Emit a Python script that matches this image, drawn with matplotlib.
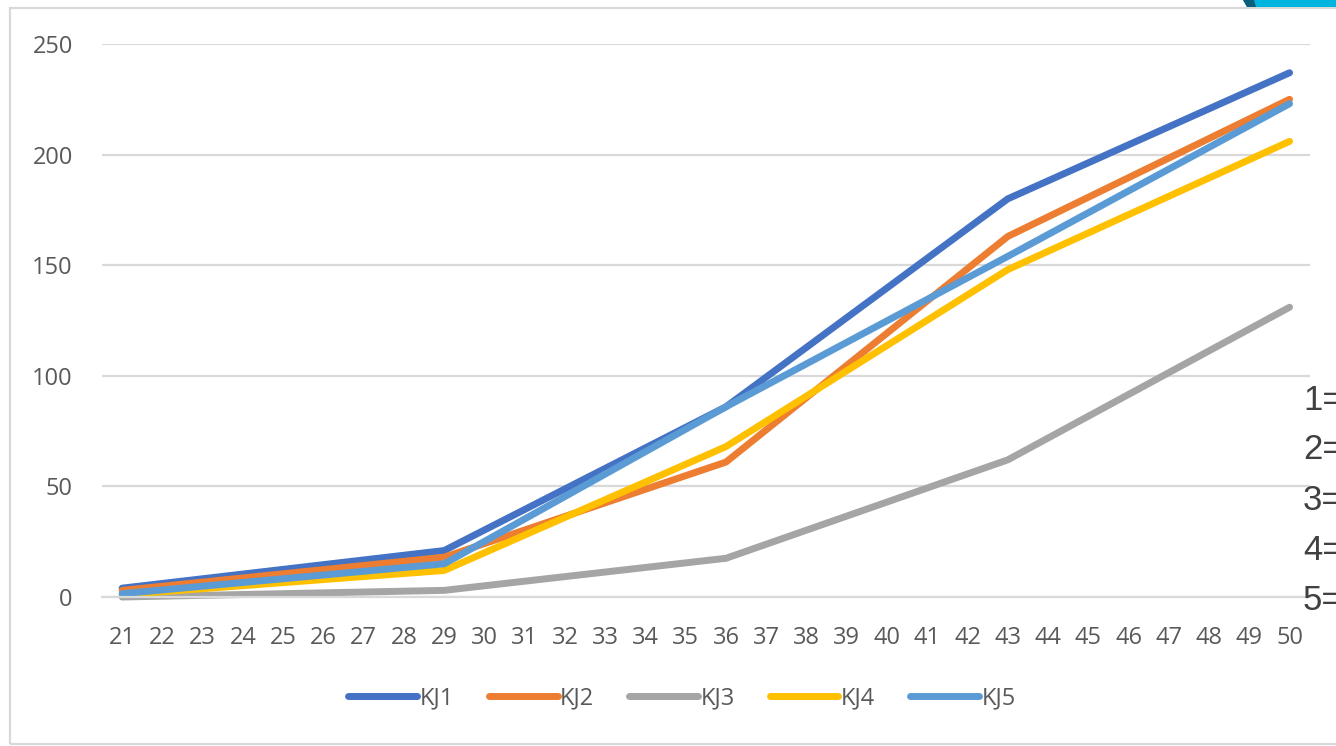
import numpy as np
import matplotlib.pyplot as plt
from matplotlib.patches import Rectangle, Polygon

# category axis 21..50, values only known at five of them
categories = list(range(21, 51))
x_points = [21, 29, 36, 43, 50]

kj1 = [4, 21, 86, 180, 237]
kj2 = [3, 18, 61, 163, 225]
kj3 = [0, 3, 17.5, 62, 131]
kj4 = [1, 12, 68, 148, 206]
kj5 = [1.5, 15, 86, 154, 223]

series = [("KJ1", kj1, "#4472C4"),
          ("KJ2", kj2, "#ED7D31"),
          ("KJ3", kj3, "#A5A5A5"),
          ("KJ4", kj4, "#FFC000"),
          ("KJ5", kj5, "#5B9BD5")]

side_labels = ["1=", "2=", "3=", "4=", "5="]

W, H = 1336, 746
fig = plt.figure(figsize=(W / 100, H / 100), dpi=100)
fig.patch.set_facecolor("white")

# chart area border and the corner decoration
fig.patches.append(Rectangle((10 / W, 2 / H), 1.2, 736 / H, transform=fig.transFigure,
                             fill=False, edgecolor="#d9d9d9", linewidth=1.6))
fig.patches.append(Polygon([(1243 / W, 1.0), (1.0, 1.0), (1.0, 739 / H), (1247 / W, 739 / H)],
                           closed=True, transform=fig.transFigure,
                           facecolor="#00b4e0", edgecolor="none"))
fig.patches.append(Polygon([(1243 / W, 1.0), (1254 / W, 1.0), (1256 / W, 739 / H), (1247 / W, 739 / H)],
                           closed=True, transform=fig.transFigure,
                           facecolor="#0b5f7a", edgecolor="none"))

ax = fig.add_axes([102 / W, 149 / H, 1207.7 / W, 553 / H])

for name, vals, col in series:
    ax.plot(x_points, vals, color=col, linewidth=5, solid_capstyle="round",
            solid_joinstyle="round", label=name, clip_on=False)

ax.set_xlim(20.5, 50.5)
ax.set_ylim(0, 250)
ax.set_xticks(categories)
ax.set_xticklabels([str(c) for c in categories])
ax.set_yticks(np.arange(0, 251, 50))

ax.grid(axis="y", color="#d9d9d9", linewidth=1.6)
ax.set_axisbelow(True)
for s in ["top", "right", "left"]:
    ax.spines[s].set_visible(False)
ax.spines["bottom"].set_color("#d9d9d9")
ax.spines["bottom"].set_linewidth(1.6)
ax.tick_params(axis="both", length=0, colors="#595959", labelsize=17)
ax.tick_params(axis="y", pad=21)
ax.tick_params(axis="x", pad=21)
for lbl in ax.get_xticklabels() + ax.get_yticklabels():
    lbl.set_family("Open Sans")

leg = fig.legend(loc="center", bbox_to_anchor=(682 / W, 1 - 698 / H), ncol=5, frameon=False,
                 handlelength=2.9, handletextpad=0.1, columnspacing=1.5,
                 prop={"family": "Open Sans", "size": 17})
for t in leg.get_texts():
    t.set_color("#595959")

for i, s in enumerate(side_labels):
    fig.text(1303 / W, 1 - (400 + i * 50) / H, s, fontsize=25, color="#404040",
             family="Liberation Sans", va="center", ha="left")

fig.savefig("out.png", dpi=100, facecolor="white")
